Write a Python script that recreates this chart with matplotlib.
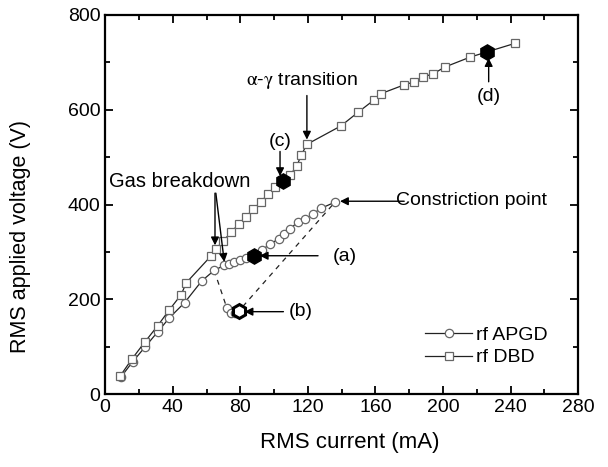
import matplotlib
matplotlib.use('Agg')
import matplotlib.pyplot as plt
from matplotlib.ticker import MultipleLocator

plt.rcParams['font.family'] = ['Liberation Sans', 'DejaVu Sans']
plt.rcParams['mathtext.fontset'] = 'stix'

# rf DBD (squares)
dbd_i = [9, 16, 23.7, 31, 38, 45, 48, 62.5, 65.5, 70, 74.7, 79.3, 83.3, 87.5, 92, 96.3,
         100.7, 105, 109.5, 113.5, 116, 119.4, 139.6, 149.8, 158.9, 163.3, 176.6, 183,
         188, 194.3, 201, 216, 226, 242.5]
dbd_v = [39, 75, 111, 144, 178, 210, 235, 291, 306, 324, 342, 360, 374, 390, 405, 422,
         436, 450, 462, 482, 504, 527, 566, 595, 620, 634, 652, 659, 669, 676, 690, 711,
         722, 740]

# rf APGD (circles), normal glow branch
apgd_i = [9.3, 16.2, 23.7, 31, 38, 47, 57.2, 64.5, 70.6, 73, 76.5, 80, 83.5, 88, 92.8,
          97.7, 102.6, 106, 109.5, 114, 118.5, 123.3, 127.7, 136]
apgd_v = [36, 68, 100, 131, 161, 193, 239, 261, 272, 274, 279, 283, 288, 292, 305,
          316, 328, 338, 348, 364, 370, 381, 392, 405]

# rf APGD after breakdown (dashed)
drop_i = [64.5, 72, 74.6, 77, 79, 136]
drop_v = [261, 182, 172, 172, 175, 405]

# highlighted points (a), (c), (d) and (b)
hex_i = [88, 105, 226]
hex_v = [292, 450, 722]
b_i, b_v = 79, 175

fig = plt.figure(figsize=(6.08, 4.67), dpi=100)
ax = fig.add_axes([0.173, 0.156, 0.778, 0.812])

ax.plot(drop_i, drop_v, ls=(0, (4, 4)), color='#222222', lw=0.9)
ax.plot(drop_i[1:4], drop_v[1:4], ls='none', marker='o', ms=6, mfc='white',
        mec='#666666', mew=0.9)
ax.plot(apgd_i, apgd_v, '-', color='#222222', lw=0.9, marker='o', ms=6,
        mfc='white', mec='#666666', mew=0.9, label='rf APGD')
ax.plot(dbd_i, dbd_v, '-', color='#222222', lw=0.9, marker='s', ms=6,
        mfc='white', mec='#666666', mew=0.9, label='rf DBD')
ax.plot(hex_i, hex_v, ls='none', marker='h', ms=11, color='black')
ax.plot([b_i], [b_v], ls='none', marker='h', ms=10, mfc='white', mec='black', mew=2.2)

arrow = dict(arrowstyle='-|>', color='black', lw=1.0, mutation_scale=12,
             shrinkA=0, shrinkB=0)
fs = 14
ax.text(44, 449, 'Gas breakdown', fontsize=14.5, ha='center', va='center')
ax.annotate('', xy=(70.5, 279), xytext=(65.5, 424), arrowprops=dict(arrow))
ax.annotate('', xy=(65, 314), xytext=(65, 424), arrowprops=dict(arrow))
ax.text(116.6, 662, r'$\mathrm{\alpha}$-$\mathrm{\gamma}$ transition', fontsize=fs,
        ha='center', va='center')
ax.annotate('', xy=(119.4, 537), xytext=(119.4, 630), arrowprops=dict(arrow))
ax.text(103.5, 532, '(c)', fontsize=fs, ha='center', va='center')
ax.annotate('', xy=(103.5, 460), xytext=(103.5, 512), arrowprops=dict(arrow))
ax.text(227, 627, '(d)', fontsize=fs, ha='center', va='center')
ax.annotate('', xy=(227, 709), xytext=(227, 659), arrowprops=dict(arrow))
ax.text(142, 290, '(a)', fontsize=fs, ha='center', va='center')
ax.annotate('', xy=(91.5, 292), xytext=(126, 292), arrowprops=dict(arrow))
ax.text(115.5, 174, '(b)', fontsize=fs, ha='center', va='center')
ax.annotate('', xy=(82.5, 174), xytext=(105.5, 174), arrowprops=dict(arrow))
ax.text(216.7, 409, 'Constriction point', fontsize=fs, ha='center', va='center')
ax.annotate('', xy=(139, 407), xytext=(177, 407), arrowprops=dict(arrow))

ax.set_xlim(0, 280)
ax.set_ylim(0, 800)
ax.xaxis.set_major_locator(MultipleLocator(40))
ax.xaxis.set_minor_locator(MultipleLocator(20))
ax.yaxis.set_major_locator(MultipleLocator(200))
ax.yaxis.set_minor_locator(MultipleLocator(100))
ax.tick_params(which='both', direction='in', top=True, right=True, labelsize=fs,
               width=1.3)
ax.tick_params(which='major', length=6)
ax.tick_params(which='minor', length=3.5)
for s in ax.spines.values():
    s.set_linewidth(1.6)

ax.set_xlabel('RMS current (mA)', fontsize=16)
ax.set_ylabel('RMS applied voltage (V)', fontsize=15.5)
ax.xaxis.set_label_coords(0.518, -0.10)
ax.yaxis.set_label_coords(-0.157, 0.415)

ax.legend(loc='upper left', bbox_to_anchor=(0.64, 0.225), frameon=False,
          fontsize=fs, handlelength=2.4, handletextpad=0.2, labelspacing=0.25)

fig.savefig('out.png', dpi=100)
